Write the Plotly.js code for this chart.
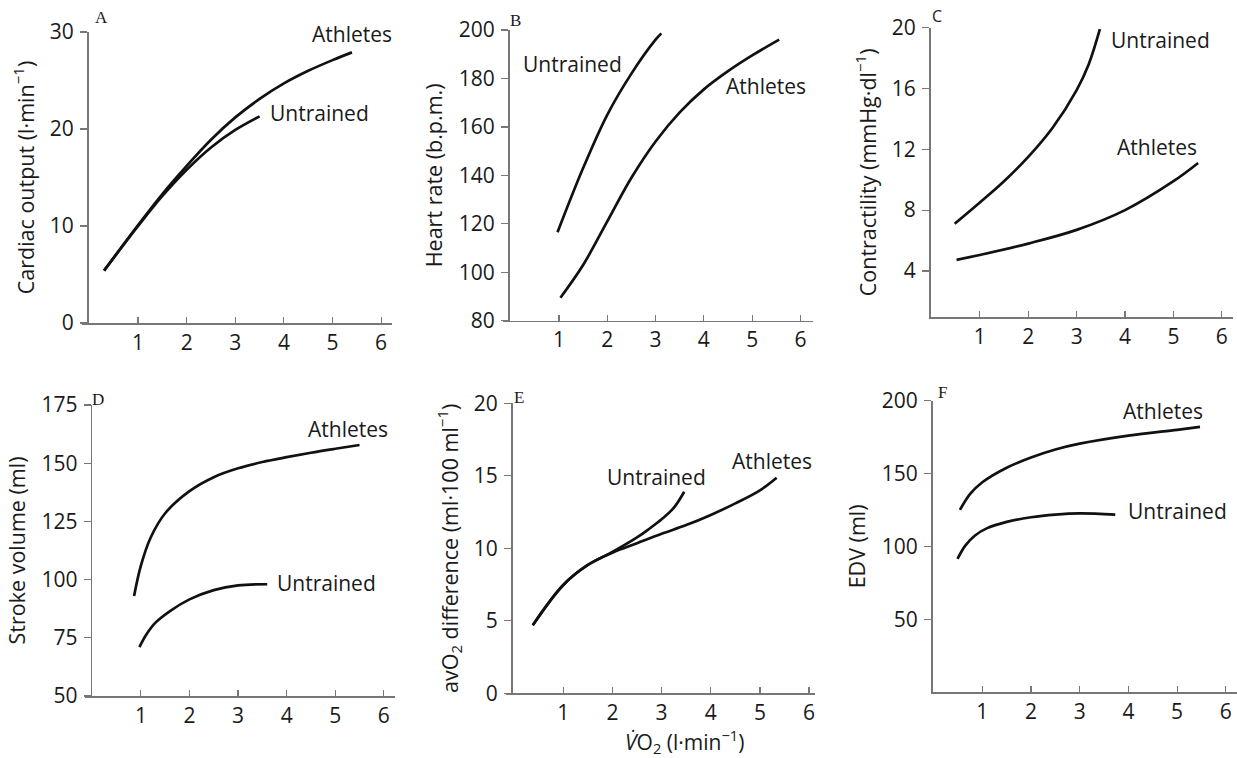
<!DOCTYPE html>
<html>
<head>
<meta charset="utf-8">
<script src="https://cdn.plot.ly/plotly-3.0.1.min.js"></script>
<style>html,body{margin:0;padding:0;background:#fff;}#chart{width:1237px;height:758px;}</style>
</head>
<body>
<div id="chart"></div>
<script>
// ---- Data ----
// A: Cardiac output (l/min) vs VO2
const aAthX = [0.3, 1, 1.5, 2, 2.5, 3, 3.5, 4, 4.5, 5, 5.4];
const aAthY = [5.4, 10.1, 13.3, 16.2, 18.9, 21.2, 23.1, 24.7, 26.0, 27.1, 27.9];
const aUntX = [0.3, 1, 1.5, 2, 2.5, 3, 3.5];
const aUntY = [5.4, 10.0, 13.1, 15.8, 18.1, 19.9, 21.3];
// B: Heart rate (b.p.m.)
const bUntX = [0.97, 1.5, 2, 2.5, 3, 3.12];
const bUntY = [116.5, 143, 165, 182, 196, 198.6];
const bAthX = [1.03, 1.5, 2, 2.5, 3, 3.5, 4, 4.5, 5, 5.56];
const bAthY = [89.5, 103, 121, 139, 154, 166, 175.5, 183, 189.5, 196];
// C: Contractility (mmHg/dl)
const cUntX = [0.48, 1, 1.5, 2, 2.5, 3, 3.25, 3.48];
const cUntY = [7.1, 8.5, 9.9, 11.5, 13.4, 15.9, 17.6, 19.9];
const cAthX = [0.52, 1, 2, 3, 4, 5, 5.51];
const cAthY = [4.73, 5.05, 5.8, 6.7, 8.0, 9.9, 11.1];
// D: Stroke volume (ml)
const dAthX = [0.86, 1.0, 1.2, 1.5, 2, 2.5, 3, 3.5, 4, 4.5, 5, 5.5];
const dAthY = [93, 106, 118, 128.5, 138, 144, 147.8, 150.5, 152.6, 154.5, 156.2, 157.8];
const dUntX = [0.97, 1.1, 1.3, 1.6, 2, 2.5, 3, 3.6];
const dUntY = [71, 76, 81.5, 86.5, 91.5, 95.5, 97.5, 98];
// E: avO2 difference (ml/100 ml)
const eUntX = [0.38, 1, 1.5, 2, 2.5, 2.75, 3, 3.25, 3.46];
const eUntY = [4.7, 7.47, 8.85, 9.75, 10.75, 11.35, 12.0, 12.8, 13.9];
const eAthX = [0.38, 1, 1.5, 2, 2.5, 3, 3.5, 4, 4.5, 5, 5.34];
const eAthY = [4.7, 7.47, 8.85, 9.7, 10.35, 11.0, 11.6, 12.3, 13.1, 14.0, 14.87];
// F: EDV (ml)
const fAthX = [0.54, 0.75, 1, 1.5, 2, 2.5, 3, 4, 5, 5.47];
const fAthY = [125, 136, 144, 154, 161, 166.5, 170.5, 176, 180, 182];
const fUntX = [0.49, 0.65, 0.85, 1.1, 1.5, 2, 2.5, 3, 3.73];
const fUntY = [91.4, 100.5, 107.5, 112.5, 116.8, 120, 121.8, 122.6, 121.8];

const xTicks = [1, 2, 3, 4, 5, 6];
const aTicks = [0, 10, 20, 30];
const bTicks = [80, 100, 120, 140, 160, 180, 200];
const cTicks = [4, 8, 12, 16, 20];
const dTicks = [50, 75, 100, 125, 150, 175];
const eTicks = [0, 5, 10, 15, 20];
const fTicks = [50, 100, 150, 200];

const yTitles = {
  A: 'Cardiac output (l·min<sup>−1</sup>)',
  B: 'Heart rate (b.p.m.)',
  C: 'Contractility (mmHg·dl<sup>−1</sup>)',
  D: 'Stroke volume (ml)',
  E: 'avO<sub>2</sub> difference (ml·100 ml<sup>−1</sup>)',
  F: 'EDV (ml)'
};
const xTitleE = '<i>V̇</i>O<sub>2</sub> (l·min<sup>−1</sup>)';

// ---- Layout geometry (pixels) ----
const W = 1237, H = 758;
const px = v => v / W;
const py = v => 1 - v / H;
const FONT = '"Open Sans", "Noto Sans", sans-serif';
const TXT = '#1a1a1a';
const AX = '#777777';
const TICKSIZE = 21, TITLESIZE = 21.5, LABELSIZE = 21;

const panels = [
  {id:'A', xl:82,  xr:392,  yx:87,  yt:32,    yb:323,   xr0:[-0.154, 6.224], yr:[0,30],     yt_:aTicks, series:[[aAthX,aAthY],[aUntX,aUntY]]},
  {id:'B', xl:503, xr:813,  yx:508, yt:30,    yb:320.7, xr0:[-0.159, 6.26],  yr:[80,200],   yt_:bTicks, series:[[bUntX,bUntY],[bAthX,bAthY]]},
  {id:'C', xl:929, xr:1233, yx:929, yt:27.7,  yb:317,   xr0:[-0.05, 6.23],   yr:[0.97,20],  yt_:cTicks, series:[[cUntX,cUntY],[cAthX,cAthY]]},
  {id:'D', xl:85,  xr:395,  yx:90.7,yt:405,   yb:696,   xr0:[-0.15, 6.23],   yr:[50,175],   yt_:dTicks, series:[[dAthX,dAthY],[dUntX,dUntY]]},
  {id:'E', xl:506, xr:815,  yx:511, yt:403.3, yb:693.3, xr0:[-0.165, 6.12],  yr:[0,20],     yt_:eTicks, series:[[eUntX,eUntY],[eAthX,eAthY]]},
  {id:'F', xl:931, xr:1237, yx:931, yt:400.7, yb:692,   xr0:[-0.054, 6.23],  yr:[0,200],    yt_:fTicks, series:[[fAthX,fAthY],[fUntX,fUntY]]}
];

const traces = [];
const layout = {
  width: W, height: H,
  margin: {l:0, r:0, t:0, b:0},
  paper_bgcolor: '#ffffff', plot_bgcolor: 'rgba(0,0,0,0)',
  showlegend: false,
  font: {family: FONT, color: TXT, size: TICKSIZE},
  annotations: []
};

panels.forEach((p, i) => {
  const n = i + 1;
  const xa = 'xaxis' + (n === 1 ? '' : n);
  const ya = 'yaxis' + (n === 1 ? '' : n);
  const xr = 'x' + (n === 1 ? '' : n);
  const yr = 'y' + (n === 1 ? '' : n);
  layout[xa] = {
    domain: [px(p.xl), px(p.xr)], anchor: yr, range: p.xr0,
    showline: true, linecolor: AX, linewidth: 1.5,
    ticks: 'inside', ticklen: 6, tickwidth: 1.2, tickcolor: AX,
    tickvals: xTicks, ticktext: xTicks.map(String),
    showgrid: false, zeroline: false, fixedrange: true,
    ticklabelstandoff: 0,
    tickfont: {family: FONT, size: TICKSIZE, color: TXT}
  };
  layout[ya] = {
    domain: [py(p.yb), py(p.yt)], anchor: 'free',
    position: px(p.yx), range: p.yr,
    showline: true, linecolor: AX, linewidth: 1.5,
    ticks: 'outside', ticklen: 7, tickwidth: 1.2, tickcolor: AX,
    tickvals: p.yt_, ticktext: p.yt_.map(String),
    showgrid: false, zeroline: false, fixedrange: true,
    ticklabelstandoff: 2,
    tickfont: {family: FONT, size: TICKSIZE, color: TXT},
    title: {text: yTitles[p.id], font: {family: FONT, size: TITLESIZE, color: TXT}, standoff: 8}
  };
  p.series.forEach(s => {
    traces.push({
      x: s[0], y: s[1], xaxis: xr, yaxis: yr,
      type: 'scatter', mode: 'lines',
      line: {color: '#111111', width: 2.7, shape: 'spline', smoothing: 1.0},
      hoverinfo: 'skip'
    });
  });
});

// x-axis title of panel E (placed as paper text)
layout.annotations.push({
  text: xTitleE, x: px(685), y: py(741), xref: 'paper', yref: 'paper',
  showarrow: false, xanchor: 'center', yanchor: 'middle',
  font: {family: FONT, size: 21, color: TXT}
});

// ---- Curve labels (paper positions in pixels) ----
const labels = [
  ['Athletes', 352, 34], ['Untrained', 319, 113],
  ['Untrained', 572, 64], ['Athletes', 766, 86],
  ['Untrained', 1160, 40], ['Athletes', 1157, 147],
  ['Athletes', 348, 429], ['Untrained', 326, 583],
  ['Untrained', 656, 477], ['Athletes', 772, 461],
  ['Athletes', 1163, 411], ['Untrained', 1177, 511]
];
labels.forEach(l => layout.annotations.push({
  text: l[0], x: px(l[1]), y: py(l[2]), xref: 'paper', yref: 'paper',
  showarrow: false, xanchor: 'center', yanchor: 'middle',
  font: {family: FONT, size: LABELSIZE, color: TXT}
}));
const letters = [
  ['A', 101, 17, 'serif'], ['B', 515, 20, 'serif'], ['C', 937, 16, 'sans'],
  ['D', 98, 399, 'serif'], ['E', 519, 397, 'serif'], ['F', 942, 392, 'serif']
];
letters.forEach(l => layout.annotations.push({
  text: l[0], x: px(l[1]), y: py(l[2]), xref: 'paper', yref: 'paper',
  showarrow: false, xanchor: 'center', yanchor: 'middle',
  font: {family: l[3] === 'serif' ? '"Liberation Serif", "DejaVu Serif", serif' : FONT, size: l[3] === 'serif' ? 17 : 16, color: TXT}
}));

Plotly.newPlot('chart', traces, layout, {staticPlot: true, displayModeBar: false});
</script>
</body>
</html>
